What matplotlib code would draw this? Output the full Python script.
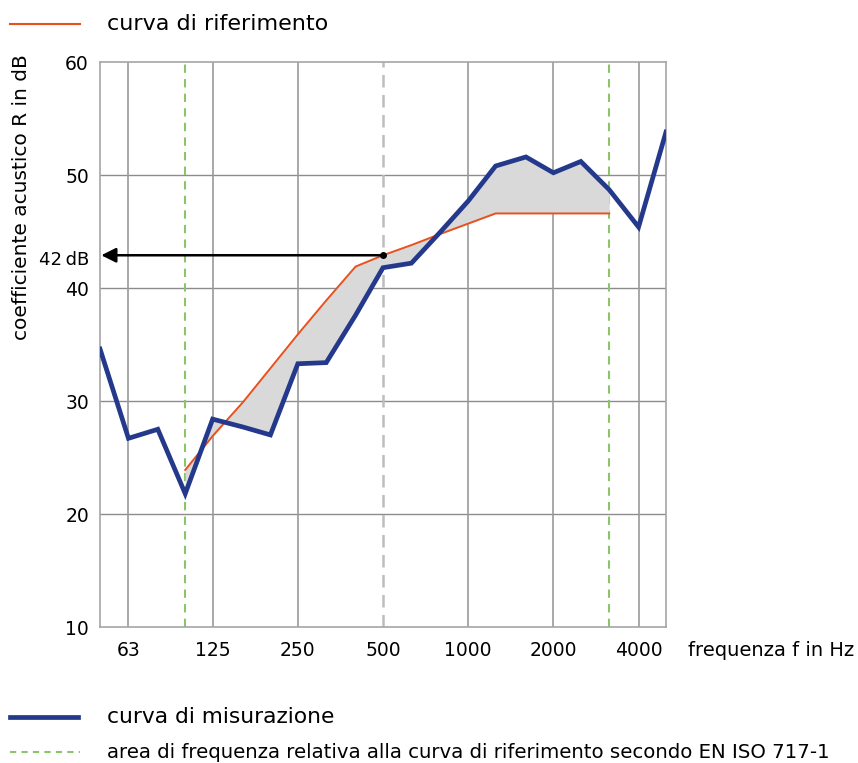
import matplotlib
matplotlib.use("Agg")
import matplotlib.pyplot as plt
from matplotlib.lines import Line2D
import numpy as np

plt.rcParams['font.family'] = ['DejaVu Sans']

# third-octave bands (Hz)
freqs = [50, 63, 80, 100, 125, 160, 200, 250, 315, 400, 500, 630, 800, 1000,
         1250, 1600, 2000, 2500, 3150, 4000, 5000]
measured = [34.6, 26.7, 27.5, 21.8, 28.4, 27.7, 27.0, 33.3, 33.4, 37.6, 41.8, 42.2,
            45.0, 47.7, 50.8, 51.6, 50.2, 51.2, 48.7, 45.4, 53.8]

ref_freqs = [100, 125, 160, 200, 250, 315, 400, 500, 630, 800, 1000, 1250, 1600,
             2000, 2500, 3150]
reference = [23.9, 26.9, 29.9, 32.9, 35.9, 38.9, 41.9, 42.9, 43.8, 44.8, 45.7,
             46.6, 46.6, 46.6, 46.6, 46.6]

xticks = [63, 125, 250, 500, 1000, 2000, 4000]
yticks = [10, 20, 30, 40, 50, 60]
rw_value = 42

blue = '#24398c'
orange = '#e8501e'
green = '#8cc46a'

fig = plt.figure(figsize=(8.58, 7.63), dpi=100)
ax = fig.add_axes([0.1166, 0.1782, 0.6596, 0.7405])

ax.set_xscale('log')
ax.set_xlim(50, 5000)
ax.set_ylim(10, 60)

# grid
for y in yticks[1:-1]:
    ax.axhline(y, color='#8c8c8c', lw=1.0, zorder=1)
for x in [63, 125, 250, 1000, 2000, 4000]:
    ax.axvline(x, color='#9a9a9a', lw=1.2, zorder=1)
ax.axvline(100, color=green, lw=1.5, ls=(0, (4, 3)), zorder=1)
ax.axvline(3150, color=green, lw=1.5, ls=(0, (4, 3)), zorder=1)
ax.axvline(500, color='#bdbdbd', lw=1.8, ls=(0, (5, 3)), zorder=1)

# shaded deviation area
meas_sub = [m for f, m in zip(freqs, measured) if 100 <= f <= 3150]
ax.fill_between(ref_freqs, reference, meas_sub, color='#d9d9d9', lw=0, zorder=2)

ax.plot(ref_freqs, reference, color=orange, lw=1.4, zorder=3)
ax.plot(freqs, measured, color=blue, lw=3.4, zorder=4, solid_joinstyle='miter')

# arrow at 500 Hz
ref500 = reference[ref_freqs.index(500)]
ax.annotate('', xy=(50.5, ref500), xytext=(500, ref500),
            arrowprops=dict(arrowstyle='-|>', color='black', lw=1.8,
                            mutation_scale=22, shrinkA=0, shrinkB=0), zorder=5)
ax.plot([500], [ref500], 'o', color='black', ms=4, zorder=6)
ax.text(-0.019, ref500 - 0.45, f'{rw_value}\u2009dB', transform=ax.get_yaxis_transform(),
        ha='right', va='center', fontsize=13)

ax.set_xticks(xticks)
ax.set_xticklabels([str(t) for t in xticks])
ax.xaxis.set_minor_locator(matplotlib.ticker.NullLocator())
ax.set_yticks(yticks)
ax.tick_params(length=0, labelsize=13.5)
ax.tick_params(axis='y', pad=8)
ax.tick_params(axis='x', pad=10)
for s in ax.spines.values():
    s.set_color('#a6a6a6')
    s.set_linewidth(1.2)

fig.text(688 / 858, 1 - 650 / 763, 'frequenza f in Hz', fontsize=14, va='center', ha='left')
fig.text(22 / 858, 1 - 197 / 763, 'coefficiente acustico R in dB', fontsize=14.5,
         rotation=90, va='center', ha='center')

# legend entries
fig.add_artist(Line2D([10 / 858, 80 / 858], [1 - 24 / 763] * 2, color=orange, lw=1.5))
fig.text(107 / 858, 1 - 24 / 763, 'curva di riferimento', fontsize=16, va='center')
fig.add_artist(Line2D([10 / 858, 78 / 858], [1 - 717 / 763] * 2, color=blue, lw=3.4))
fig.text(107 / 858, 1 - 717 / 763, 'curva di misurazione', fontsize=15.7, va='center')
fig.add_artist(Line2D([10 / 858, 80 / 858], [1 - 752 / 763] * 2, color=green, lw=1.5,
                      ls=(0, (3, 2.5))))
fig.text(107 / 858, 1 - 752 / 763,
         'area di frequenza relativa alla curva di riferimento secondo EN ISO 717-1',
         fontsize=14.2, va='center')

fig.savefig('out.png', dpi=100)
